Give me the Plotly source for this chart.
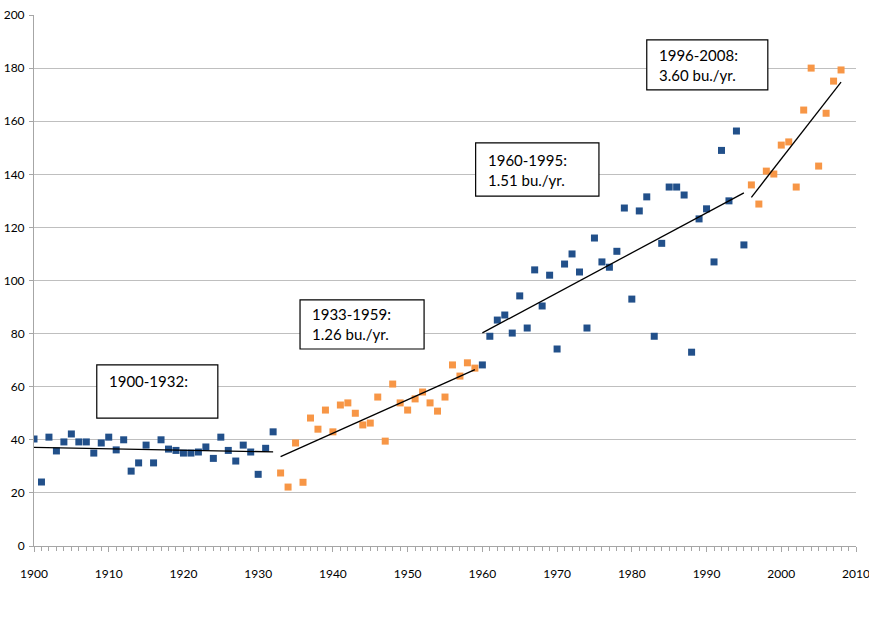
import numpy as np
import plotly.graph_objects as go

# ---- data (bu./acre by year) ----
years_1900_1932 = list(range(1900, 1933))
yield_1900_1932 = [40.3, 24.1, 41.0, 35.8, 39.2, 42.2, 39.2, 39.2, 35.0, 38.8,
                   41.0, 36.2, 40.0, 28.2, 31.3, 38.0, 31.3, 40.0, 36.5, 36.0,
                   35.0, 35.0, 35.4, 37.3, 33.0, 41.0, 36.0, 32.0, 38.0, 35.4,
                   27.0, 36.8, 43.0]

years_1933_1959 = list(range(1933, 1960))
yield_1933_1959 = [27.5, 22.2, 38.8, 24.0, 48.2, 44.0, 51.2, 43.0, 53.1, 53.9,
                   50.0, 45.6, 46.3, 56.1, 39.5, 61.0, 53.9, 51.2, 55.4, 58.0,
                   53.9, 50.8, 56.1, 68.2, 64.0, 69.0, 67.0]

years_1960_1995 = list(range(1960, 1996))
yield_1960_1995 = [68.2, 79.0, 85.1, 87.0, 80.2, 94.2, 82.1, 104.0, 90.4, 102.0,
                   74.2, 106.2, 110.0, 103.2, 82.1, 116.0, 107.0, 105.0, 111.0, 127.3,
                   93.0, 126.2, 131.5, 79.0, 114.0, 135.2, 135.2, 132.2, 73.0, 123.2,
                   127.0, 107.0, 149.0, 130.0, 156.3, 113.4]

years_1996_2008 = list(range(1996, 2009))
yield_1996_2008 = [136.0, 128.8, 141.2, 140.1, 151.0, 152.2, 135.2, 164.2, 180.0,
                   143.1, 163.0, 175.1, 179.3]

segments = [
    (years_1900_1932, yield_1900_1932, "#22508A"),
    (years_1933_1959, yield_1933_1959, "#F79646"),
    (years_1960_1995, yield_1960_1995, "#22508A"),
    (years_1996_2008, yield_1996_2008, "#F79646"),
]

labels = [
    ("1900-1932:", ""),
    ("1933-1959:", "1.26 bu./yr."),
    ("1960-1995:", "1.51 bu./yr."),
    ("1996-2008:", "3.60 bu./yr."),
]
# label box extents in data units (x0, x1, y0, y1)
boxes = [
    (1908.4, 1924.6, 48.2, 68.2),
    (1935.6, 1952.2, 74.2, 92.7),
    (1959.1, 1975.6, 131.8, 151.8),
    (1982.0, 1998.2, 171.8, 190.6),
]

FONT = "Lato"

fig = go.Figure()

for yrs, vals, col in segments:
    fig.add_trace(go.Scatter(
        x=yrs, y=vals, mode="markers",
        marker=dict(symbol="square", size=7, color=col, line=dict(width=0)),
        showlegend=False, hoverinfo="x+y"))

for yrs, vals, col in segments:
    a, b = np.polyfit(yrs, vals, 1)
    xs = [yrs[0], yrs[-1]]
    fig.add_trace(go.Scatter(
        x=xs, y=[a * xs[0] + b, a * xs[1] + b], mode="lines",
        line=dict(color="black", width=1.3), showlegend=False, hoverinfo="skip"))

for (x0, x1, y0, y1), (l1, l2) in zip(boxes, labels):
    fig.add_shape(type="rect", xref="x", yref="y", x0=x0, x1=x1, y0=y0, y1=y1,
                  line=dict(color="black", width=1.2), fillcolor="white", layer="above")
    text = l1 + ("<br>" + l2 if l2 else "<br> ")
    fig.add_annotation(x=x0 + 1.4, y=(y0 + y1) / 2, xref="x", yref="y",
                       text=text, showarrow=False, xanchor="left", yanchor="middle",
                       align="left", font=dict(family=FONT, size=15, color="black"))

fig.update_layout(
    width=869, height=620,
    margin=dict(l=34, r=13, t=15, b=74),
    paper_bgcolor="white", plot_bgcolor="white",
    font=dict(family=FONT, size=12, color="black"),
    xaxis=dict(range=[1900, 2010], dtick=10, tick0=1900, showgrid=False,
               zeroline=False, showline=True, linecolor="#A6A6A6", linewidth=1,
               ticks="outside", ticklen=5, tickcolor="#A6A6A6",
               minor=dict(dtick=1, ticks="outside", ticklen=4, tickcolor="#A6A6A6"),
               ticklabelstandoff=12, ticklabeloverflow="allow", automargin=False,
               tickfont=dict(family=FONT, size=12)),
    yaxis=dict(range=[0, 200], dtick=20, showgrid=True, gridcolor="#BFBFBF",
               gridwidth=1, zeroline=False, showline=True, linecolor="#A6A6A6",
               ticks="outside", ticklen=4, tickcolor="#A6A6A6",
               ticklabelstandoff=2, automargin=False, ticklabeloverflow="allow",
               tickfont=dict(family=FONT, size=12)),
)

fig.write_html("out.html")
